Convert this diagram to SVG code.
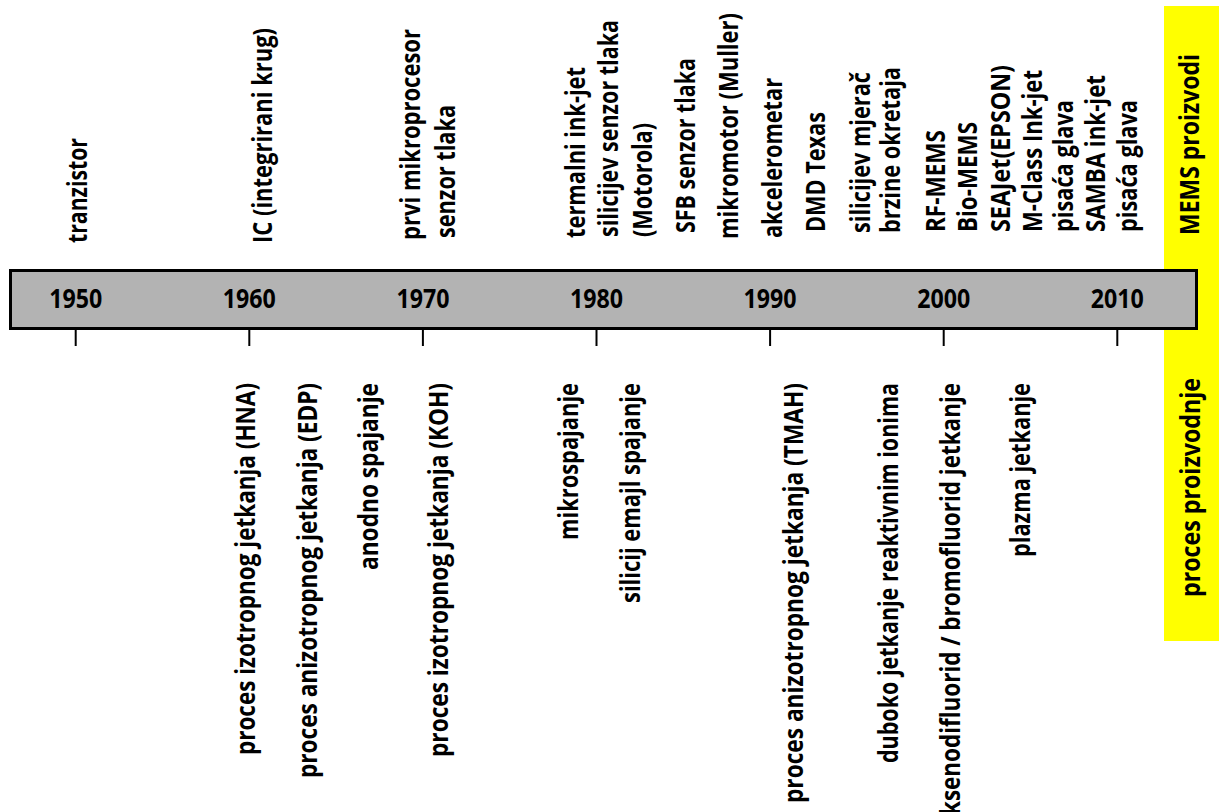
<svg xmlns="http://www.w3.org/2000/svg" width="1224" height="812" viewBox="0 0 1224 812">
<style>
text{font-family:"Open Sans","Liberation Sans",sans-serif;font-weight:700;font-size:26px;fill:#000}
.yr{text-anchor:middle}
.bot{text-anchor:end}
.tick{stroke:#000;stroke-width:2}
</style>
<rect width="1224" height="812" fill="#fff"/>
<g id="legend">
<rect x="1164" y="6" width="55" height="635" fill="#ffff00"/>
<text transform="translate(1199,235) rotate(-90)" textLength="181" lengthAdjust="spacingAndGlyphs">MEMS proizvodi</text>
<text transform="translate(1200,597) rotate(-90)" textLength="219" lengthAdjust="spacingAndGlyphs">proces proizvodnje</text>
</g>
<g id="timeline">
<rect x="10.5" y="270.5" width="1186" height="58" fill="#b3b3b3" stroke="#000" stroke-width="3"/>
<text class="yr" x="75.7" y="308" textLength="53" lengthAdjust="spacingAndGlyphs">1950</text>
<text class="yr" x="249.3" y="308" textLength="53" lengthAdjust="spacingAndGlyphs">1960</text>
<text class="yr" x="422.9" y="308" textLength="53" lengthAdjust="spacingAndGlyphs">1970</text>
<text class="yr" x="596.5" y="308" textLength="53" lengthAdjust="spacingAndGlyphs">1980</text>
<text class="yr" x="770.1" y="308" textLength="53" lengthAdjust="spacingAndGlyphs">1990</text>
<text class="yr" x="943.7" y="308" textLength="53" lengthAdjust="spacingAndGlyphs">2000</text>
<text class="yr" x="1117.3" y="308" textLength="53" lengthAdjust="spacingAndGlyphs">2010</text>
</g>
<g id="connectors">
<line class="tick" x1="75.7" y1="330" x2="75.7" y2="346"/>
<line class="tick" x1="249.3" y1="330" x2="249.3" y2="346"/>
<line class="tick" x1="422.9" y1="330" x2="422.9" y2="346"/>
<line class="tick" x1="596.5" y1="330" x2="596.5" y2="346"/>
<line class="tick" x1="770.1" y1="330" x2="770.1" y2="346"/>
<line class="tick" x1="943.7" y1="330" x2="943.7" y2="346"/>
<line class="tick" x1="1117.3" y1="330" x2="1117.3" y2="346"/>
</g>
<g id="products">
<text transform="translate(87,243) rotate(-90)" textLength="105" lengthAdjust="spacingAndGlyphs">tranzistor</text>
<text transform="translate(272,243) rotate(-90)" textLength="215" lengthAdjust="spacingAndGlyphs">IC (integrirani krug)</text>
<text transform="translate(420,240) rotate(-90)" textLength="211" lengthAdjust="spacingAndGlyphs">prvi mikroprocesor</text>
<text transform="translate(455,238) rotate(-90)" textLength="133" lengthAdjust="spacingAndGlyphs">senzor tlaka</text>
<text transform="translate(585,238) rotate(-90)" textLength="171" lengthAdjust="spacingAndGlyphs">termalni ink-jet</text>
<text transform="translate(618,237) rotate(-90)" textLength="217" lengthAdjust="spacingAndGlyphs">silicijev senzor tlaka</text>
<text transform="translate(652,237) rotate(-90)" textLength="114" lengthAdjust="spacingAndGlyphs">(Motorola)</text>
<text transform="translate(695,233) rotate(-90)" textLength="175" lengthAdjust="spacingAndGlyphs">SFB senzor tlaka</text>
<text transform="translate(738,239) rotate(-90)" textLength="226" lengthAdjust="spacingAndGlyphs">mikromotor (Muller)</text>
<text transform="translate(782,238) rotate(-90)" textLength="160" lengthAdjust="spacingAndGlyphs">akcelerometar</text>
<text transform="translate(825,232) rotate(-90)" textLength="120" lengthAdjust="spacingAndGlyphs">DMD Texas</text>
<text transform="translate(870,233) rotate(-90)" textLength="161" lengthAdjust="spacingAndGlyphs">silicijev mjerač</text>
<text transform="translate(900,233) rotate(-90)" textLength="166" lengthAdjust="spacingAndGlyphs">brzine okretaja</text>
<text transform="translate(945,232) rotate(-90)" textLength="102" lengthAdjust="spacingAndGlyphs">RF-MEMS</text>
<text transform="translate(977,232) rotate(-90)" textLength="110" lengthAdjust="spacingAndGlyphs">Bio-MEMS</text>
<text transform="translate(1010,232) rotate(-90)" textLength="167" lengthAdjust="spacingAndGlyphs">SEAJet(EPSON)</text>
<text transform="translate(1042,232) rotate(-90)" textLength="162" lengthAdjust="spacingAndGlyphs">M-Class Ink-jet</text>
<text transform="translate(1073,232) rotate(-90)" textLength="132" lengthAdjust="spacingAndGlyphs">pisaća glava</text>
<text transform="translate(1105,232) rotate(-90)" textLength="157" lengthAdjust="spacingAndGlyphs">SAMBA ink-jet</text>
<text transform="translate(1137,232) rotate(-90)" textLength="132" lengthAdjust="spacingAndGlyphs">pisaća glava</text>
</g>
<g id="processes">
<text class="bot" transform="translate(255,383) rotate(-90)" textLength="372" lengthAdjust="spacingAndGlyphs">proces izotropnog jetkanja (HNA)</text>
<text class="bot" transform="translate(317,383) rotate(-90)" textLength="395" lengthAdjust="spacingAndGlyphs">proces anizotropnog jetkanja (EDP)</text>
<text class="bot" transform="translate(378,383) rotate(-90)" textLength="187" lengthAdjust="spacingAndGlyphs">anodno spajanje</text>
<text class="bot" transform="translate(448,383) rotate(-90)" textLength="374" lengthAdjust="spacingAndGlyphs">proces izotropnog jetkanja (KOH)</text>
<text class="bot" transform="translate(578,383) rotate(-90)" textLength="157" lengthAdjust="spacingAndGlyphs">mikrospajanje</text>
<text class="bot" transform="translate(640,383) rotate(-90)" textLength="220" lengthAdjust="spacingAndGlyphs">silicij emajl spajanje</text>
<text class="bot" transform="translate(803,383) rotate(-90)" textLength="420" lengthAdjust="spacingAndGlyphs">proces anizotropnog jetkanja (TMAH)</text>
<text class="bot" transform="translate(898,383) rotate(-90)" textLength="380" lengthAdjust="spacingAndGlyphs">duboko jetkanje reaktivnim ionima</text>
<text class="bot" transform="translate(960,383) rotate(-90)" textLength="432" lengthAdjust="spacingAndGlyphs">ksenodifluorid / bromofluorid jetkanje</text>
<text class="bot" transform="translate(1030,383) rotate(-90)" textLength="174" lengthAdjust="spacingAndGlyphs">plazma jetkanje</text>
</g>
</svg>
